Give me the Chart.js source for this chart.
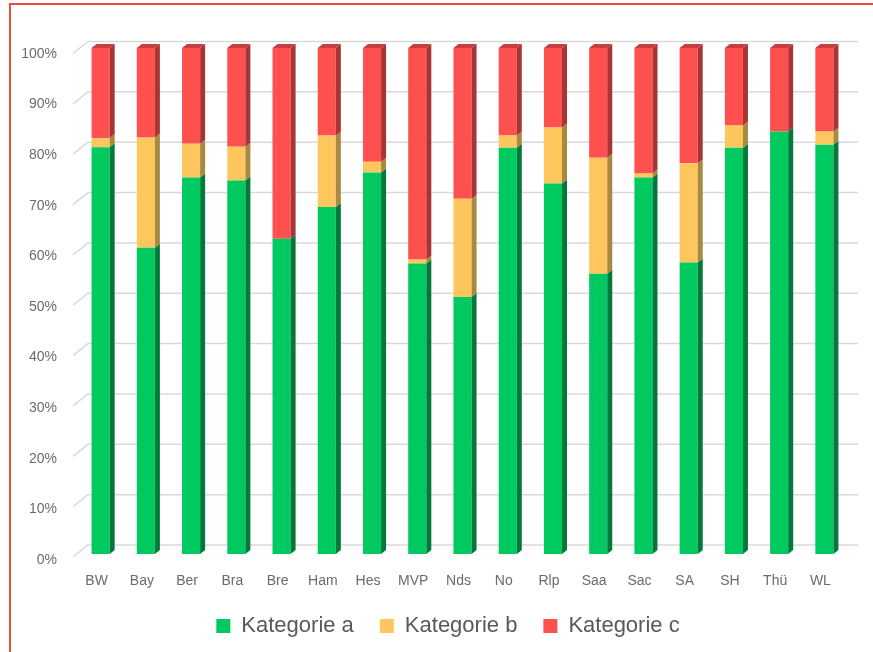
<!DOCTYPE html>
<html>
<head>
<meta charset="utf-8">
<script src="https://cdn.jsdelivr.net/npm/chart.js@4/dist/chart.umd.min.js"></script>
<style>
  body { margin: 0; background: #fff; overflow: hidden; }
  #wrap { position: relative; width: 873px; height: 652px; }
  #frame { position: absolute; left: 9px; top: 3px; right: 0; bottom: -5px;
           border-top: 2px solid #ee4b43; border-left: 2px solid #ee4b43; pointer-events: none; }
</style>
</head>
<body>
<div id="wrap">
  <canvas id="chart"></canvas>
  <div id="frame"></div>
</div>
<script>
// Länderkürzel
var laender = ['BW', 'Bay', 'Ber', 'Bra', 'Bre', 'Ham', 'Hes', 'MVP', 'Nds', 'No', 'Rlp', 'Saa', 'Sac', 'SA', 'SH', 'Thü', 'WL'];
// Anteile in Prozent
var kategorieA = [80.4, 60.5, 74.4, 73.8, 62.3, 68.6, 75.4, 57.4, 50.8, 80.3, 73.2, 55.4, 74.4, 57.6, 80.3, 83.5, 80.9];
var kategorieB = [1.8, 21.8, 6.7, 6.7, 0, 14.1, 2.1, 0.8, 19.4, 2.4, 11.1, 22.9, 0.8, 19.6, 4.4, 0, 2.6];
var kategorieC = [17.8, 17.7, 18.9, 19.5, 37.7, 17.3, 22.5, 41.8, 29.8, 17.3, 15.7, 21.7, 24.8, 22.8, 15.3, 16.5, 16.5];
var yTicks = [0, 10, 20, 30, 40, 50, 60, 70, 80, 90, 100];

var sideColors = ['#007a3a', '#a8893f', '#a83434'];
var capColor = '#c83d3d';
var dx = 5, dy = 4; // Tiefe der Säulen

// Rückwand-Gitterlinien und Seitenflächen im 3D-Stil
var wallPlugin = {
    id: 'wall',
    afterLayout: function(chart) {
        // Legende etwas nach rechts schieben
        chart.legend.left += 14;
        chart.legend.right += 14;
    },
    beforeDatasetsDraw: function(chart) {
        var ctx = chart.ctx, y = chart.scales.y, area = chart.chartArea;
        ctx.save();
        ctx.strokeStyle = '#d9d9d9';
        ctx.lineWidth = 1.5;
        yTicks.forEach(function(v) {
            var yf = y.getPixelForValue(v);
            var yb = yf - 9 + 2.5 * v / 100;
            ctx.beginPath();
            ctx.moveTo(area.left - 5, yb + 12);
            ctx.lineTo(area.left + 10, yb);
            ctx.lineTo(area.right + 11, yb);
            ctx.stroke();
        });
        ctx.restore();
    },
    afterDatasetsDraw: function(chart) {
        var ctx = chart.ctx;
        ctx.save();
        chart.data.datasets.forEach(function(ds, di) {
            var meta = chart.getDatasetMeta(di);
            meta.data.forEach(function(bar, i) {
                if (!ds.data[i]) return;
                var r = bar.x + bar.width / 2, l = bar.x - bar.width / 2;
                ctx.fillStyle = sideColors[di];
                ctx.beginPath();
                ctx.moveTo(r, bar.y);
                ctx.lineTo(r + dx, bar.y - dy);
                ctx.lineTo(r + dx, bar.base - dy);
                ctx.lineTo(r, bar.base);
                ctx.closePath();
                ctx.fill();
                if (di === chart.data.datasets.length - 1) {
                    ctx.fillStyle = capColor;
                    ctx.beginPath();
                    ctx.moveTo(l, bar.y);
                    ctx.lineTo(l + dx, bar.y - dy);
                    ctx.lineTo(r + dx, bar.y - dy);
                    ctx.lineTo(r, bar.y);
                    ctx.closePath();
                    ctx.fill();
                }
            });
        });
        ctx.restore();
    }
};

var ctx = document.getElementById('chart').getContext('2d');
new Chart(ctx, {
    type: 'bar',
    data: {
        labels: laender,
        datasets: [
            { label: 'Kategorie a', data: kategorieA, backgroundColor: '#00c95f' },
            { label: 'Kategorie b', data: kategorieB, backgroundColor: '#fdc75e' },
            { label: 'Kategorie c', data: kategorieC, backgroundColor: '#ff5050' }
        ]
    },
    options: {
        responsive: true,
        maintainAspectRatio: false,
        animation: false,
        categoryPercentage: 0.8,
        barPercentage: 0.5,
        layout: { padding: { left: 21, right: 26, top: 48, bottom: 5 } },
        plugins: {
            tooltip: { enabled: false },
            legend: {
                position: 'bottom',
                labels: {
                    boxWidth: 14,
                    boxHeight: 14,
                    padding: 26,
                    color: '#595959',
                    font: { family: 'Liberation Sans', size: 22 }
                }
            }
        },
        scales: {
            x: {
                stacked: true,
                afterFit: function(scale) { scale.height = 35; },
                grid: { display: false, drawTicks: false },
                border: { display: false },
                ticks: { color: '#6b6b6b', padding: 19, labelOffset: -4,
                         font: { family: 'Liberation Sans', size: 14 } }
            },
            y: {
                stacked: true,
                min: 0,
                max: 100,
                afterFit: function(scale) { scale.width = 57; },
                grid: { display: false, drawTicks: false },
                border: { display: false },
                ticks: { stepSize: 10, color: '#6b6b6b', padding: 21, labelOffset: 6,
                         font: { family: 'Liberation Sans', size: 14 },
                         callback: function(v) { return v + '%'; } }
            }
        }
    },
    plugins: [wallPlugin]
});
</script>
</body>
</html>
